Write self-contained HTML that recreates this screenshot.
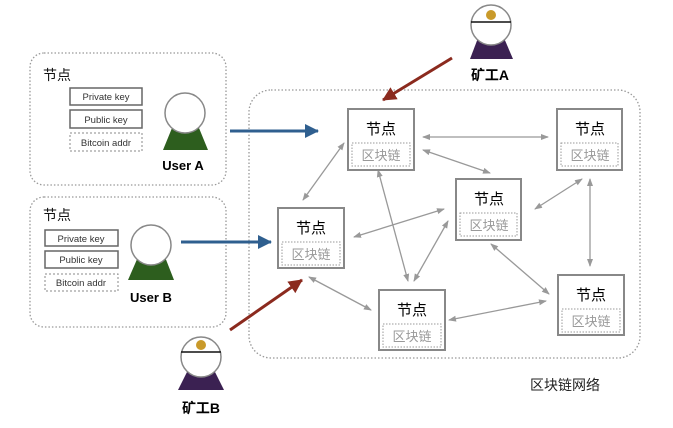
<!DOCTYPE html>
<html><head><meta charset="utf-8"><style>
body{margin:0;background:#fff;}
svg text{font-family:"Liberation Sans","Noto Sans CJK SC",sans-serif;}
</style></head><body>
<svg width="673" height="423" viewBox="0 0 673 423" xmlns="http://www.w3.org/2000/svg">
<defs>
<marker id="g" markerWidth="8" markerHeight="8" refX="7" refY="4" orient="auto-start-reverse" markerUnits="userSpaceOnUse"><path d="M0,1 L8,4 L0,7z" fill="#999"/></marker>
<marker id="b" markerWidth="14" markerHeight="14" refX="13" refY="7" orient="auto" markerUnits="userSpaceOnUse"><path d="M0,0 L14,7 L0,14z" fill="#2f5f8f"/></marker>
<marker id="r" markerWidth="14" markerHeight="14" refX="13" refY="7" orient="auto" markerUnits="userSpaceOnUse"><path d="M0,0 L14,7 L0,14z" fill="#8b2a1e"/></marker>
</defs>
<g fill="none" stroke="#999" stroke-width="1.3" stroke-dasharray="1.5 2">
<rect x="30" y="53" width="196" height="132" rx="14"/>
<rect x="30" y="197" width="196" height="130" rx="14"/>
<rect x="249" y="90" width="391" height="268" rx="22"/>
</g>
<g font-size="14" fill="#111"><text x="43" y="80">节点</text><text x="43" y="220">节点</text></g>
<g font-size="9.5" fill="#333" text-anchor="middle">
<rect x="70" y="88" width="72" height="17" fill="#fff" stroke="#666" stroke-width="1.5"/><text x="106" y="100">Private key</text>
<rect x="70" y="110" width="72" height="18" fill="#fff" stroke="#666" stroke-width="1.5"/><text x="106" y="123">Public key</text>
<rect x="70" y="133" width="72" height="18" fill="#fff" stroke="#888" stroke-dasharray="2 2"/><text x="106" y="146">Bitcoin addr</text>
<rect x="45" y="230" width="73" height="16" fill="#fff" stroke="#666" stroke-width="1.5"/><text x="81" y="242">Private key</text>
<rect x="45" y="251" width="73" height="17" fill="#fff" stroke="#666" stroke-width="1.5"/><text x="81" y="263">Public key</text>
<rect x="45" y="274" width="73" height="17" fill="#fff" stroke="#888" stroke-dasharray="2 2"/><text x="81" y="286">Bitcoin addr</text>
</g>
<!-- users -->
<path d="M172,128 L199,128 L208,150 L163,150z" fill="#2d5e1e"/>
<circle cx="185" cy="113" r="20" fill="#fff" stroke="#888" stroke-width="1.5"/>
<text x="183" y="170" font-size="13" font-weight="bold" text-anchor="middle">User A</text>
<path d="M138,257 L165,257 L174,280 L128,280z" fill="#2d5e1e"/>
<circle cx="151" cy="245" r="20" fill="#fff" stroke="#888" stroke-width="1.5"/>
<text x="151" y="302" font-size="13" font-weight="bold" text-anchor="middle">User B</text>
<!-- miners -->
<path d="M478,38 L504,38 L513,59 L470,59z" fill="#3b2152"/>
<circle cx="491" cy="25" r="20" fill="#fff" stroke="#888" stroke-width="1.5"/>
<line x1="471" y1="22" x2="511" y2="22" stroke="#111" stroke-width="1.5"/>
<circle cx="491" cy="15" r="5" fill="#c99a2a"/>
<text x="490" y="80" font-size="14" font-weight="bold" text-anchor="middle">矿工A</text>
<path d="M188,370 L214,370 L224,390 L178,390z" fill="#3b2152"/>
<circle cx="201" cy="357" r="20" fill="#fff" stroke="#888" stroke-width="1.5"/>
<line x1="181" y1="352" x2="221" y2="352" stroke="#111" stroke-width="1.5"/>
<circle cx="201" cy="345" r="5" fill="#c99a2a"/>
<text x="201" y="413" font-size="14" font-weight="bold" text-anchor="middle">矿工B</text>
<!-- big arrows -->
<line x1="230" y1="131" x2="318" y2="131" stroke="#2f5f8f" stroke-width="3" marker-end="url(#b)"/>
<line x1="181" y1="242" x2="271" y2="242" stroke="#2f5f8f" stroke-width="3" marker-end="url(#b)"/>
<line x1="452" y1="58" x2="383" y2="100" stroke="#8b2a1e" stroke-width="3" marker-end="url(#r)"/>
<line x1="230" y1="330" x2="302" y2="280" stroke="#8b2a1e" stroke-width="3" marker-end="url(#r)"/>
<!-- gray arrows -->
<g stroke="#999" stroke-width="1.3" marker-start="url(#g)" marker-end="url(#g)">
<line x1="423" y1="137" x2="548" y2="137"/>
<line x1="423" y1="150" x2="490" y2="173"/>
<line x1="344" y1="143" x2="303" y2="200"/>
<line x1="378" y1="170" x2="408" y2="281"/>
<line x1="444" y1="209" x2="354" y2="237"/>
<line x1="448" y1="221" x2="414" y2="281"/>
<line x1="535" y1="209" x2="582" y2="179"/>
<line x1="590" y1="179" x2="590" y2="266"/>
<line x1="491" y1="244" x2="549" y2="294"/>
<line x1="309" y1="277" x2="371" y2="310"/>
<line x1="449" y1="320" x2="546" y2="301"/>
</g>
<!-- nodes -->
<g id="nodes">
<g transform="translate(348,109)"><rect width="66" height="61" fill="#fff" stroke="#888" stroke-width="2"/><rect x="4" y="34" width="58" height="23" fill="none" stroke="#999" stroke-dasharray="1.5 1.5"/><text x="33" y="25" font-size="15" text-anchor="middle">节点</text><text x="33" y="51" font-size="13" fill="#999" text-anchor="middle">区块链</text></g>
<g transform="translate(557,109)"><rect width="65" height="61" fill="#fff" stroke="#888" stroke-width="2"/><rect x="4" y="34" width="57" height="23" fill="none" stroke="#999" stroke-dasharray="1.5 1.5"/><text x="33" y="25" font-size="15" text-anchor="middle">节点</text><text x="33" y="51" font-size="13" fill="#999" text-anchor="middle">区块链</text></g>
<g transform="translate(456,179)"><rect width="65" height="61" fill="#fff" stroke="#888" stroke-width="2"/><rect x="4" y="34" width="57" height="23" fill="none" stroke="#999" stroke-dasharray="1.5 1.5"/><text x="33" y="25" font-size="15" text-anchor="middle">节点</text><text x="33" y="51" font-size="13" fill="#999" text-anchor="middle">区块链</text></g>
<g transform="translate(278,208)"><rect width="66" height="60" fill="#fff" stroke="#888" stroke-width="2"/><rect x="4" y="34" width="58" height="23" fill="none" stroke="#999" stroke-dasharray="1.5 1.5"/><text x="33" y="25" font-size="15" text-anchor="middle">节点</text><text x="33" y="51" font-size="13" fill="#999" text-anchor="middle">区块链</text></g>
<g transform="translate(379,290)"><rect width="66" height="60" fill="#fff" stroke="#888" stroke-width="2"/><rect x="4" y="34" width="58" height="23" fill="none" stroke="#999" stroke-dasharray="1.5 1.5"/><text x="33" y="25" font-size="15" text-anchor="middle">节点</text><text x="33" y="51" font-size="13" fill="#999" text-anchor="middle">区块链</text></g>
<g transform="translate(558,275)"><rect width="66" height="60" fill="#fff" stroke="#888" stroke-width="2"/><rect x="4" y="34" width="58" height="23" fill="none" stroke="#999" stroke-dasharray="1.5 1.5"/><text x="33" y="25" font-size="15" text-anchor="middle">节点</text><text x="33" y="51" font-size="13" fill="#999" text-anchor="middle">区块链</text></g>
</g>
<text x="565" y="390" font-size="14" text-anchor="middle" fill="#222">区块链网络</text>
</svg>
</body></html>
